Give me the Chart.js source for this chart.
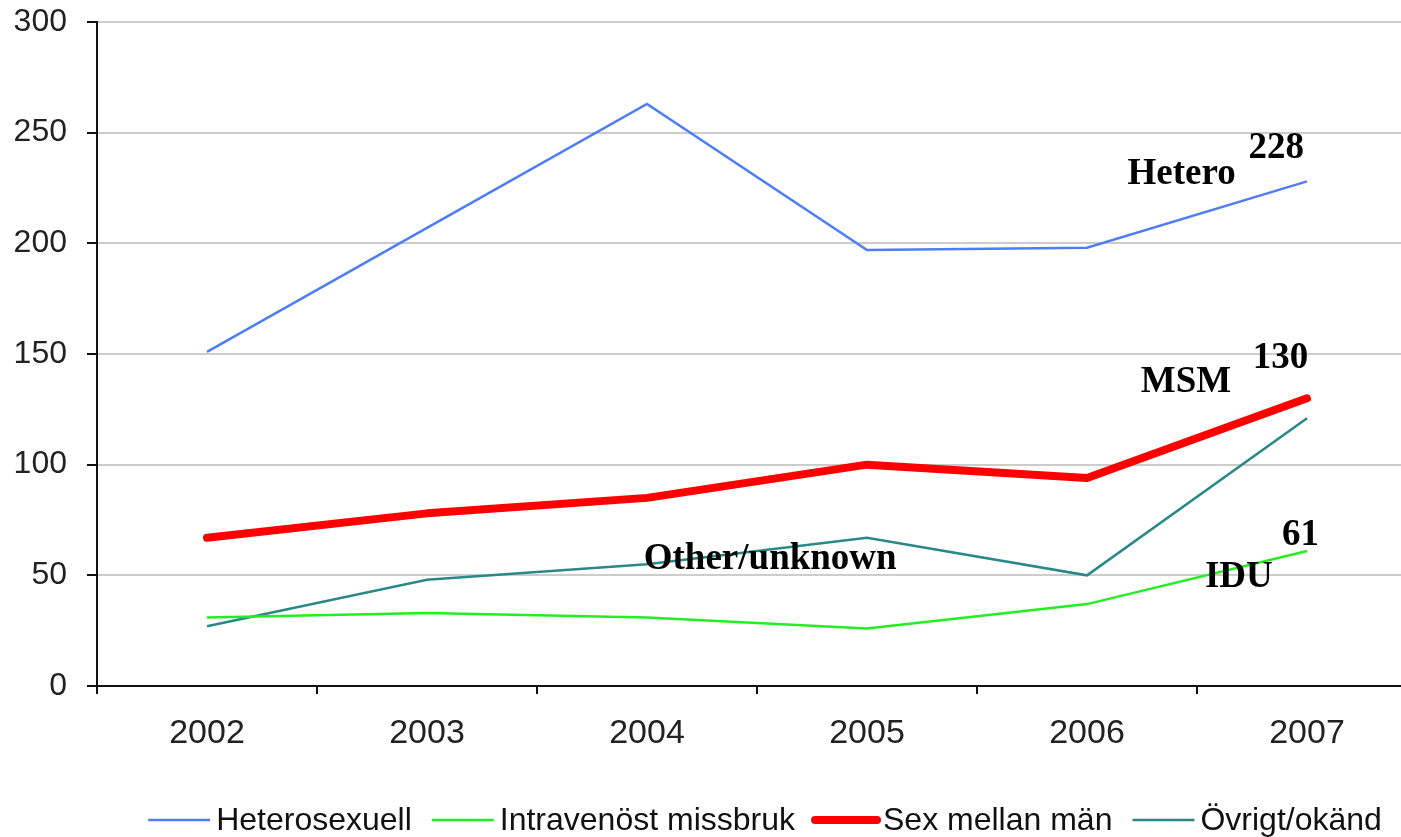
<!DOCTYPE html>
<html>
<head>
<meta charset="utf-8">
<script src="https://cdn.jsdelivr.net/npm/chart.js@4.4.1/dist/chart.umd.min.js"></script>
<style>
    html, body { margin: 0; padding: 0; background: #fff; overflow: hidden; }
    #wrap { width: 1420px; height: 837px; }
</style>
</head>
<body>
<div id="wrap"><canvas id="hivChart" width="1420" height="837"></canvas></div>
<script>
const years = ["2002", "2003", "2004", "2005", "2006", "2007"];

const hetero = [151, 207, 263, 197, 198, 228];
const idu = [31, 33, 31, 26, 37, 61];
const msm = [67, 78, 85, 100, 94, 130];
const other = [27, 48, 55, 67, 50, 121];

const seriesNames = ["Heterosexuell", "Intravenöst missbruk", "Sex mellan män", "Övrigt/okänd"];

const yTicks = [0, 50, 100, 150, 200, 250, 300];

// text written on the chart, anchored at (category index, value)
const noteText = ["Hetero", "228", "MSM", "130", "61", "IDU", "Other/unknown"];
const noteAt = [[4.43, 231], [4.86, 243], [4.45, 137], [4.88, 148], [4.97, 68], [4.69, 49], [2.56, 57]];

const sansFont = '"Liberation Sans", Arial, sans-serif';
const serifFont = '"Liberation Serif", "Times New Roman", serif';

// labels on the plot
const notesPlugin = {
    id: "notes",
    afterDatasetsDraw(chart) {
        const { ctx, scales } = chart;
        ctx.save();
        ctx.font = "bold 37px " + serifFont;
        ctx.fillStyle = "#000";
        ctx.textAlign = "center";
        ctx.textBaseline = "middle";
        noteText.forEach((txt, i) => {
            const x = scales.x.getPixelForValue(noteAt[i][0]);
            const y = scales.y.getPixelForValue(noteAt[i][1]);
            ctx.fillText(txt, x, y);
        });
        ctx.restore();
    }
};

// legend drawn by hand so the gaps match the original
const bottomLegend = {
    id: "bottomLegend",
    afterDraw(chart) {
        const { ctx, chartArea } = chart;
        const sample = 62, gapText = 6, gapItem = 20;
        ctx.save();
        ctx.font = "32px " + sansFont;
        ctx.textBaseline = "middle";
        const sets = chart.data.datasets;
        let total = 0;
        sets.forEach((ds, i) => {
            total += sample + gapText + ctx.measureText(ds.label).width;
            if (i < sets.length - 1) total += gapItem;
        });
        let x = chartArea.left + chartArea.width / 2 + 8 - total / 2;
        const y = chartArea.bottom + 134;
        sets.forEach(ds => {
            ctx.strokeStyle = ds.borderColor;
            ctx.lineWidth = ds.borderWidth;
            ctx.lineCap = ds.borderWidth > 4 ? "round" : "butt";
            ctx.beginPath();
            ctx.moveTo(x, y);
            ctx.lineTo(x + sample, y);
            ctx.stroke();
            x += sample + gapText;
            ctx.fillStyle = "#111";
            ctx.fillText(ds.label, x, y + 1);
            x += ctx.measureText(ds.label).width + gapItem;
        });
        ctx.restore();
    }
};

const ctx = document.getElementById("hivChart").getContext("2d");
const hivChart = new Chart(ctx, {
    type: "line",
    data: {
        labels: years,
        datasets: [
            { label: seriesNames[0], data: hetero, borderColor: "#4f7df5", borderWidth: 2.5 },
            { label: seriesNames[1], data: idu, borderColor: "#22ee22", borderWidth: 2.5 },
            { label: seriesNames[2], data: msm, borderColor: "#ff0000", borderWidth: 8, borderCapStyle: "round", borderJoinStyle: "round" },
            { label: seriesNames[3], data: other, borderColor: "#2a8888", borderWidth: 2.5 }
        ]
    },
    options: {
        responsive: false,
        animation: false,
        devicePixelRatio: 1,
        elements: {
            line: { tension: 0, fill: false },
            point: { radius: 0, hoverRadius: 0 }
        },
        layout: { padding: { top: 22, right: 3, bottom: 91, left: 0 } },
        plugins: {
            legend: { display: false },
            tooltip: { enabled: false }
        },
        scales: {
            x: {
                offset: true,
                grid: {
                    offset: true,
                    drawOnChartArea: false,
                    drawTicks: true,
                    tickLength: 8,
                    tickColor: "#111",
                    lineWidth: 2
                },
                border: { color: "#111", width: 2 },
                ticks: {
                    color: "#222",
                    font: { family: sansFont, size: 34 },
                    padding: 19,
                    maxRotation: 0
                },
                afterFit(scale) { scale.height = 60; }
            },
            y: {
                min: 0,
                max: 300,
                afterBuildTicks(scale) { scale.ticks = yTicks.map(v => ({ value: v })); },
                grid: {
                    color: "#cccccc",
                    lineWidth: 2,
                    tickLength: 10,
                    tickColor: "#111"
                },
                border: { color: "#111", width: 2 },
                ticks: {
                    color: "#222",
                    font: { family: sansFont, size: 32 },
                    padding: 20
                },
                afterFit(scale) {
                    scale.width = 97;
                    scale.paddingTop = 0;
                    scale.paddingBottom = 0;
                }
            }
        }
    },
    plugins: [notesPlugin, bottomLegend]
});
</script>
</body>
</html>
